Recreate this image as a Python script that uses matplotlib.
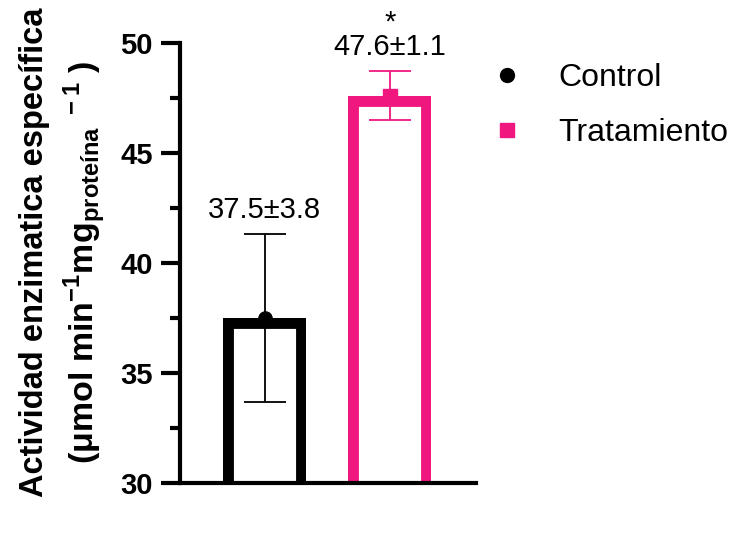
import matplotlib
matplotlib.use("Agg")
import matplotlib.pyplot as plt
from matplotlib.lines import Line2D

plt.rcParams['font.family'] = ['Liberation Sans', 'DejaVu Sans']
plt.rcParams['mathtext.fontset'] = 'custom'
plt.rcParams['mathtext.rm'] = 'Liberation Sans'
plt.rcParams['mathtext.bf'] = 'Liberation Sans:bold'

# data
groups = ["Control", "Tratamiento"]
means = [37.5, 47.6]
sds = [3.8, 1.1]
signif = ["", "*"]
colors = ["#000000", "#F0187F"]
markers = ["o", "s"]

fig = plt.figure(figsize=(7.41, 5.39), dpi=100)
ax = fig.add_axes([0.2429, 0.1033, 0.3995, 0.8175])

xpos = list(range(len(groups)))
bars = ax.bar(xpos, means, width=0.659, color="white", edgecolor=colors, linewidth=15, zorder=1)
for b in bars:
    # keep the border inside the bar (path clip, axes clip box stays)
    b.set_clip_path(b.get_path(), b.get_transform())

for i in xpos:
    ax.errorbar(xpos[i], means[i], yerr=sds[i], fmt="none", ecolor=colors[i],
                elinewidth=1.3, capsize=15, capthick=1.3, zorder=2)
    ax.plot(xpos[i], means[i], marker=markers[i], color=colors[i], markersize=9.5,
            linestyle="none", zorder=3, clip_on=False)
    ax.annotate(f"{means[i]}\u00b1{sds[i]}", xy=(xpos[i], means[i] + sds[i]),
                xytext=(0, 12), textcoords="offset points", ha="center", va="baseline",
                fontsize=21, annotation_clip=False)
    if signif[i]:
        ax.annotate(signif[i], xy=(xpos[i], means[i] + sds[i]), xytext=(0, 29.5),
                    textcoords="offset points", ha="center", va="baseline",
                    fontsize=21, annotation_clip=False)

ax.set_xlim(-0.675, 1.689)
ax.set_ylim(30, 50)
ax.set_yticks([30, 35, 40, 45, 50])
ax.set_yticks([32.5, 37.5, 42.5, 47.5], minor=True)
ax.set_xticks([])
for s in ["top", "right"]:
    ax.spines[s].set_visible(False)
for s in ["left", "bottom"]:
    ax.spines[s].set_linewidth(3)
ax.tick_params(axis="y", which="major", length=13.5, width=3, pad=6, labelsize=21)
ax.tick_params(axis="y", which="minor", length=7, width=3)
for lab in ax.get_yticklabels():
    lab.set_fontweight("bold")

fig.text(0.058, 0.5315, "Actividad enzimatica específica", rotation=90,
         rotation_mode="anchor", ha="center", va="baseline", fontsize=23.5, fontweight="bold")
fig.text(0.126, 0.513,
         r"(μmol min$^{\mathbf{-1}}$mg$_{\mathbf{proteína}}$$^{\mathbf{\ -1}}$ )",
         rotation=90, rotation_mode="anchor", ha="center", va="baseline",
         fontsize=24.5, fontweight="bold")

handles = [Line2D([], [], marker=markers[i], color=colors[i], linestyle="none", markersize=10)
           for i in xpos]
fig.legend(handles, groups, loc="upper left", bbox_to_anchor=(0.6237, 0.936),
           frameon=False, fontsize=23, handlelength=1.0, handletextpad=1.1,
           labelspacing=0.77)

fig.savefig("out.png", dpi=100)
